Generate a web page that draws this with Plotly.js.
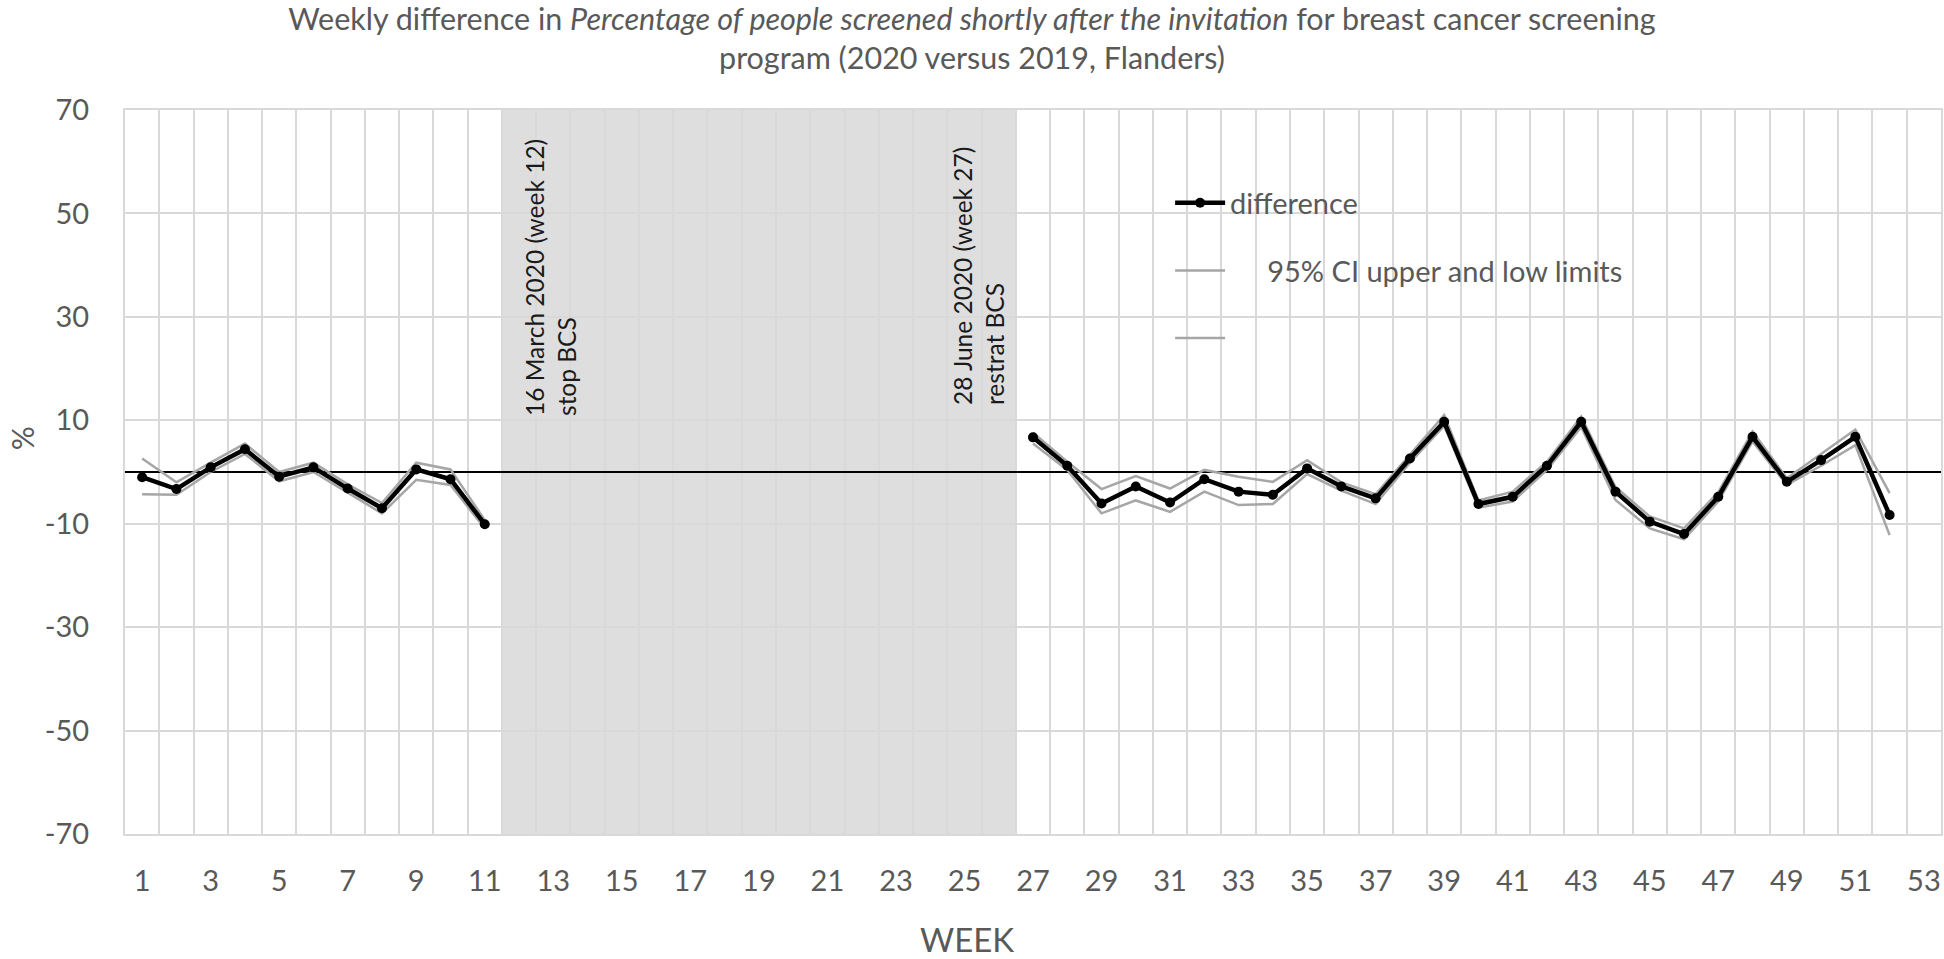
<!DOCTYPE html>
<html>
<head>
<meta charset="utf-8">
<script src="https://cdn.plot.ly/plotly-3.0.1.min.js"></script>
<style>
html,body{margin:0;padding:0;background:#fff;}
#chart{width:1944px;height:959px;}
</style>
</head>
<body>
<div id="chart"></div>
<script>
// ---- data ----
var weeks = [];
for (var w = 1; w <= 53; w++) weeks.push(w);

var difference = [-1.0, -3.3, 0.9, 4.4, -0.9, 0.9, -3.2, -7.0, 0.5, -1.4, -10.1,
  null, null, null, null, null, null, null, null, null, null, null, null, null, null, null,
  6.7, 1.2, -6.1, -2.8, -5.9, -1.4, -3.8, -4.4, 0.7, -2.8, -5.1, 2.6, 9.7, -6.2,
  -4.8, 1.2, 9.7, -3.8, -9.6, -12.0, -4.8, 6.8, -1.9, 2.3, 6.8, -8.3, null];

var ciUpper = [2.6, -2.0, 1.8, 5.5, 0.0, 1.8, -2.4, -6.0, 1.8, 0.5, -9.3,
  null, null, null, null, null, null, null, null, null, null, null, null, null, null, null,
  7.6, 2.0, -3.3, -0.8, -3.2, 0.4, -0.9, -1.9, 2.3, -2.0, -4.3, 3.4, 11.0, -5.5,
  -3.8, 2.0, 10.7, -2.9, -8.6, -10.9, -3.9, 7.8, -1.2, 3.5, 8.2, -4.1, null];

var ciLower = [-4.3, -4.4, 0.0, 3.5, -1.8, 0.0, -4.0, -8.0, -1.5, -2.5, -10.9,
  null, null, null, null, null, null, null, null, null, null, null, null, null, null, null,
  5.5, 0.4, -8.0, -5.5, -7.7, -3.8, -6.4, -6.2, -0.4, -3.6, -6.2, 1.8, 8.9, -6.9,
  -5.7, 0.4, 8.7, -5.4, -10.9, -13.0, -5.7, 5.9, -2.5, 1.2, 5.2, -12.2, null];

var xTickVals = [1,3,5,7,9,11,13,15,17,19,21,23,25,27,29,31,33,35,37,39,41,43,45,47,49,51,53];
var yTickVals = [-70, -50, -30, -10, 10, 30, 50, 70];
var yTickText = ['-70', '-50', '-30', '-10', '10', '30', '50', '70'];

var stopWeekBoundary = 11.5;
var restartWeekBoundary = 26.5;

var seriesNames = ['difference', '\u00A0\u00A0\u00A0\u00A0\u00A095% CI upper and low limits', ' '];

// ---- chart ----
var FONT = 'Lato, "Open Sans", sans-serif';
var GREY = '#595959';

var traces = [
  {
    x: weeks, y: ciUpper, type: 'scatter', mode: 'lines',
    name: seriesNames[1], legendrank: 2, legendgroup: 'u',
    line: {color: '#a6a6a6', width: 2.5}, hoverinfo: 'x+y'
  },
  {
    x: weeks, y: ciLower, type: 'scatter', mode: 'lines',
    name: seriesNames[2], legendrank: 3, legendgroup: 'l',
    line: {color: '#a6a6a6', width: 2.5}, hoverinfo: 'x+y'
  },
  {
    x: weeks, y: difference, type: 'scatter', mode: 'lines+markers',
    name: seriesNames[0], legendrank: 1, legendgroup: 'd',
    line: {color: '#000000', width: 4.5},
    marker: {color: '#000000', size: 10}
  }
];

var layout = {
  width: 1944, height: 959,
  paper_bgcolor: '#ffffff', plot_bgcolor: '#ffffff',
  margin: {l: 125, r: 3, t: 110, b: 125},
  font: {family: FONT, color: GREY},
  title: {
    text: 'Weekly difference in <i>Percentage of people screened shortly after the invitation</i> for breast cancer screening<br>program (2020 versus 2019, Flanders)',
    font: {family: FONT, size: 30.5, color: GREY},
    x: 0.5, xref: 'container', xanchor: 'center',
    y: 0.969, yref: 'container', yanchor: 'top'
  },
  xaxis: {
    range: [0.5, 53.5],
    tickmode: 'array', tickvals: xTickVals,
    showgrid: false, zeroline: false,
    showline: true, linecolor: '#d9d9d9', linewidth: 2, mirror: true,
    ticks: '', ticklabelstandoff: 20,
    tickfont: {family: FONT, size: 29, color: GREY},
    minor: {tick0: 0.5, dtick: 1, showgrid: true, gridcolor: '#d9d9d9', gridwidth: 2, ticks: ''},
    fixedrange: true
  },
  yaxis: {
    range: [-70, 70],
    tickmode: 'array', tickvals: yTickVals, ticktext: yTickText,
    showgrid: true, gridcolor: '#d9d9d9', gridwidth: 2,
    zeroline: true, zerolinecolor: '#000000', zerolinewidth: 1.5,
    showline: true, linecolor: '#d9d9d9', linewidth: 2, mirror: true,
    ticks: '', ticklabelstandoff: 28,
    tickfont: {family: FONT, size: 29, color: GREY},
    fixedrange: true
  },
  showlegend: true,
  legend: {
    x: 0.5755, xanchor: 'left', xref: 'paper',
    y: 0.907, yanchor: 'top', yref: 'paper',
    bgcolor: 'rgba(0,0,0,0)', borderwidth: 0,
    traceorder: 'grouped', tracegroupgap: 27,
    itemwidth: 50,
    font: {family: FONT, size: 29, color: GREY}
  },
  shapes: [
    {
      type: 'rect', xref: 'x', yref: 'paper',
      x0: stopWeekBoundary, x1: restartWeekBoundary, y0: 0, y1: 1,
      fillcolor: '#dedede', line: {width: 0}, layer: 'below'
    }
  ],
  annotations: [
    {
      text: '16 March 2020 (week 12)<br>stop BCS',
      xref: 'paper', yref: 'paper', x: 0.2343, y: 0.5746,
      xanchor: 'center', yanchor: 'bottom', textangle: -90, align: 'left',
      showarrow: false, font: {family: FONT, size: 24.5, color: '#1a1a1a'}
    },
    {
      text: '28 June 2020 (week 27)<br>restrat BCS',
      xref: 'paper', yref: 'paper', x: 0.4703, y: 0.5898,
      xanchor: 'center', yanchor: 'bottom', textangle: -90, align: 'left',
      showarrow: false, font: {family: FONT, size: 24.5, color: '#1a1a1a'}
    },
    {
      text: 'WEEK', xref: 'paper', yref: 'paper', x: 0.4637, y: -0.145,
      xanchor: 'center', yanchor: 'middle', showarrow: false,
      font: {family: FONT, size: 33, color: GREY}
    },
    {
      text: '%', xref: 'paper', yref: 'paper', x: -0.0565, y: 0.547,
      xanchor: 'center', yanchor: 'middle', textangle: -90, showarrow: false,
      font: {family: FONT, size: 30, color: GREY}
    }
  ]
};

Plotly.newPlot('chart', traces, layout, {displayModeBar: false, staticPlot: true});
</script>
</body>
</html>
